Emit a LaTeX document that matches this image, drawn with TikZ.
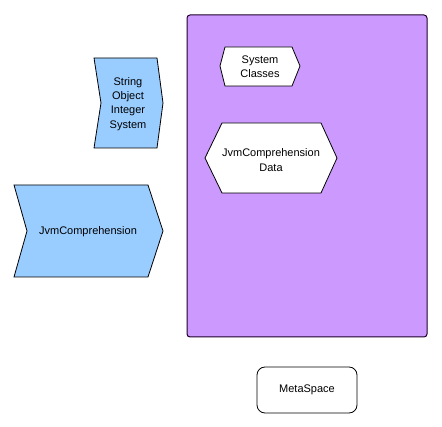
\documentclass[tikz,border=0pt]{standalone}
\usepackage{fontspec}
\setmainfont{Liberation Sans}
\usepackage{xcolor}
\definecolor{heapviolet}{RGB}{204,153,255}
\definecolor{classblue}{RGB}{153,204,255}
\definecolor{edgeviolet}{RGB}{30,0,40}

\begin{document}
\begin{tikzpicture}[x=1pt,y=-1pt,font=\fontsize{11}{14.3}\selectfont,line join=miter,line width=0.8pt]
  \useasboundingbox (0,0) rectangle (442,427);
  % heap area
  \draw[edgeviolet,fill=heapviolet,rounded corners=3pt,line width=1pt] (187,15) rectangle (427,337);
  % chevrons on the left
  \draw[fill=classblue] (94,58) -- (157,58) -- (163,103) -- (157,148) -- (94,148) -- (101,103) -- cycle;
  \draw[fill=classblue] (14,185) -- (148,185) -- (163,231) -- (148,277) -- (14,277) -- (27,231) -- cycle;
  \node[align=center] (types) at (128,104) {String\\Object\\Integer\\System};
  \node (jvmc) at (88,232) {JvmComprehension};
  % hexagons inside the heap
  \draw[fill=white] (225,47) -- (292,47) -- (300,66) -- (292,86) -- (225,86) -- (220,66) -- cycle;
  \draw[fill=white] (222,123) -- (321,123) -- (337,158) -- (321,193) -- (222,193) -- (205,158) -- cycle;
  \node[align=center] (sysclasses) at (260,67) {System\\Classes};
  \node[align=center] (jvmcdata) at (271,160) {JvmComprehension\\Data};
  % metaspace
  \draw[rounded corners=8pt] (257,367) rectangle (357,413);
  \node (metaspace) at (307,390) {MetaSpace};
\end{tikzpicture}
\end{document}
